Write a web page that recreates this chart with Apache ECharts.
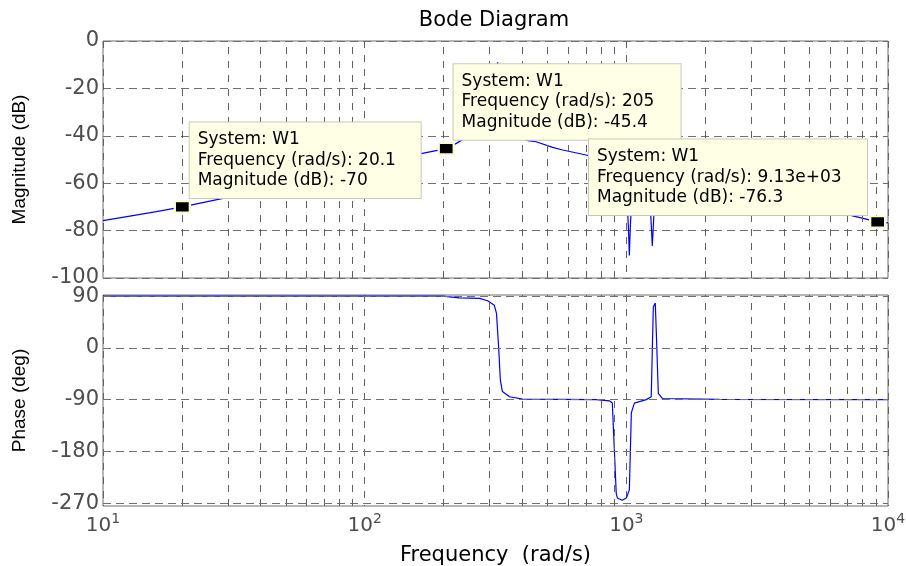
<!DOCTYPE html>
<html lang="en">
<head>
<meta charset="UTF-8">
<title>Bode Diagram</title>
<style>
    html, body {
        margin: 0;
        padding: 0;
        background: #fff;
    }
    #main {
        width: 906px;
        height: 566px;
    }
</style>
</head>
<body>
<div id="main"></div>
<script src="https://cdn.jsdelivr.net/npm/echarts@6/dist/echarts.min.js"></script>
<script>
    // magnitude curve (rad/s, dB)
    var magFreq = [10, 12.5, 16, 20.1, 30, 50, 80, 120, 166, 205, 224, 255, 285, 305, 318, 322, 327, 335, 350, 380,
        420, 452, 523, 571, 702, 820, 950, 995, 1009, 1018, 1027, 1036, 1045, 1060, 1150, 1215, 1235, 1257, 1279,
        1300, 1500, 2000, 3000, 4500, 6693, 9130, 10000];
    var magDb = [-75.8, -74, -72, -70, -66, -60.5, -55, -50.5, -47.4, -45.4, -43.2, -39.5, -33, -22, -12, -9, -14, -26, -36, -40.5,
        -42, -42.5, -44.9, -46, -48.1, -50, -51.8, -52.5, -70, -78, -90.5, -78, -70, -54, -54.5, -58, -70, -86.5, -70,
        -58, -58.5, -62, -66.5, -70, -72.7, -76.3, -76.7];

    // phase curve (rad/s, deg)
    var phaseFreq = [10, 100, 198, 230, 275, 295, 313, 319, 325, 330, 336, 358, 401, 768, 861, 884, 915, 924, 965,
        1000, 1027, 1045, 1073, 1192, 1245, 1268, 1290, 1301, 1325, 1373, 2265, 10000];
    var phaseDeg = [90, 90, 90, 87, 86, 82, 74, 60, 2, -56, -76, -85, -89, -90, -92, -96, -253, -261, -265,
        -261, -247, -113, -96, -90, -85, 71, 78, 31, -79, -88, -89.5, -90];

    // grid / ticks
    var minorFreq = [20, 30, 40, 50, 60, 70, 80, 90, 200, 300, 400, 500, 600, 700, 800, 900,
        2000, 3000, 4000, 5000, 6000, 7000, 8000, 9000];
    var phaseTicks = [90, 0, -90, -180, -270];

    // data tips
    var tipFreq = [20.1, 205, 9130];
    var tipMag = [-70, -45.4, -76.3];

    var font = 'DejaVu Sans';
    var nameFont = 'Liberation Sans';
    var tickColor = '#4d4d4d';
    var vDash = {color: '#606060', width: 1, type: [7, 7]};
    var hDash = {color: '#707070', width: 1, type: [8, 5]};

    function pairs(xs, ys) {
        return xs.map(function (x, i) { return [x, ys[i]]; });
    }

    function fmtFreq(f) {
        if (f >= 1000) {
            var p = f.toExponential(2).split('e');
            var ex = parseInt(p[1], 10);
            return p[0] + 'e' + (ex < 0 ? '-' : '+') + (Math.abs(ex) < 10 ? '0' : '') + Math.abs(ex);
        }
        return String(f);
    }

    function gridLines(hValues) {
        var data = minorFreq.map(function (f) { return {xAxis: f}; });
        (hValues || []).forEach(function (v) {
            data.push({yAxis: v, lineStyle: hDash});
        });
        return {
            silent: true,
            symbol: ['none', 'none'],
            label: {show: false},
            lineStyle: vDash,
            emphasis: {disabled: true},
            animation: false,
            data: data
        };
    }

    // label box offsets / widths for the three tips
    var tipPos = [[16, -78], [16, -78], [-280, -76]];
    var tipWidth = [215, 211, 262];

    var chart = echarts.init(document.getElementById('main'));

    var gridBase = {
        show: true,
        borderColor: '#6e6e6e',
        borderWidth: 1,
        backgroundColor: 'transparent',
        left: 103,
        right: 18,
        outerBoundsMode: 'none'
    };

    var logAxis = {
        type: 'log',
        logBase: 10,
        min: 10,
        max: 10000,
        axisLine: {show: false},
        axisTick: {show: false},
        splitLine: {show: true, lineStyle: vDash}
    };

    var option = {
        animation: false,
        backgroundColor: '#fff',
        title: {
            text: 'Bode Diagram',
            left: 494,
            top: 10,
            padding: 0,
            textAlign: 'center',
            textStyle: {fontFamily: font, fontSize: 21, fontWeight: 'normal', color: '#000'}
        },
        grid: [
            Object.assign({}, gridBase, {top: 41, height: 237}),
            Object.assign({}, gridBase, {top: 295, height: 211})
        ],
        xAxis: [
            Object.assign({}, logAxis, {gridIndex: 0, axisLabel: {show: false}}),
            Object.assign({}, logAxis, {
                gridIndex: 1,
                axisLabel: {
                    show: true,
                    margin: 6,
                    formatter: function (v) {
                        return '{b|10}{s|' + Math.round(Math.log(v) / Math.LN10) + '}';
                    },
                    rich: {
                        b: {fontFamily: font, fontSize: 20, color: tickColor, lineHeight: 24, verticalAlign: 'bottom'},
                        s: {fontFamily: font, fontSize: 14, color: tickColor, lineHeight: 24, verticalAlign: 'top'}
                    }
                },
                name: 'Frequency  (rad/s)',
                nameLocation: 'middle',
                nameGap: 39,
                nameTextStyle: {fontFamily: font, fontSize: 21, color: '#000'}
            })
        ],
        yAxis: [
            {
                gridIndex: 0,
                type: 'value',
                min: -100,
                max: 0,
                interval: 20,
                axisLine: {show: false},
                axisTick: {show: false},
                axisLabel: {fontFamily: font, fontSize: 21, color: tickColor, margin: 4},
                splitLine: {show: true, lineStyle: hDash},
                name: 'Magnitude (dB)',
                nameLocation: 'middle',
                nameGap: 74,
                nameTextStyle: {fontFamily: nameFont, fontSize: 19, color: '#000'}
            },
            {
                gridIndex: 1,
                type: 'value',
                min: -275,
                max: 92,
                axisLine: {show: false},
                axisTick: {show: false, customValues: phaseTicks},
                axisLabel: {fontFamily: font, fontSize: 21, color: tickColor, margin: 4, customValues: phaseTicks},
                splitLine: {show: false},
                name: 'Phase (deg)',
                nameLocation: 'middle',
                nameGap: 74,
                nameTextStyle: {fontFamily: nameFont, fontSize: 19, color: '#000'}
            }
        ],
        series: [
            {
                type: 'line',
                xAxisIndex: 0,
                yAxisIndex: 0,
                data: pairs(magFreq, magDb),
                showSymbol: false,
                symbol: 'none',
                lineStyle: {color: '#0000ff', width: 1.2},
                silent: true,
                markLine: gridLines()
            },
            {
                type: 'line',
                xAxisIndex: 1,
                yAxisIndex: 1,
                data: pairs(phaseFreq, phaseDeg),
                showSymbol: false,
                symbol: 'none',
                lineStyle: {color: '#0000ff', width: 1.2},
                silent: true,
                markLine: gridLines(phaseTicks)
            },
            {
                type: 'scatter',
                xAxisIndex: 0,
                yAxisIndex: 0,
                z: 10,
                silent: true,
                symbol: 'rect',
                symbolSize: [15, 11],
                itemStyle: {color: '#000', borderColor: '#fafad2', borderWidth: 2, opacity: 1},
                data: tipFreq.map(function (f, i) {
                    return {
                        value: [f, tipMag[i]],
                        label: {
                            show: true,
                            position: tipPos[i],
                            width: tipWidth[i],
                            formatter: 'System: W1\nFrequency (rad/s): ' + fmtFreq(f) +
                                '\nMagnitude (dB): ' + tipMag[i]
                        }
                    };
                }),
                label: {
                    fontFamily: font,
                    fontSize: 17,
                    lineHeight: 20.5,
                    color: '#000',
                    align: 'left',
                    backgroundColor: '#ffffe6',
                    borderColor: '#c8c8b8',
                    borderWidth: 1,
                    padding: [7, 8, 7, 8]
                }
            }
        ]
    };

    chart.setOption(option);
</script>
</body>
</html>
